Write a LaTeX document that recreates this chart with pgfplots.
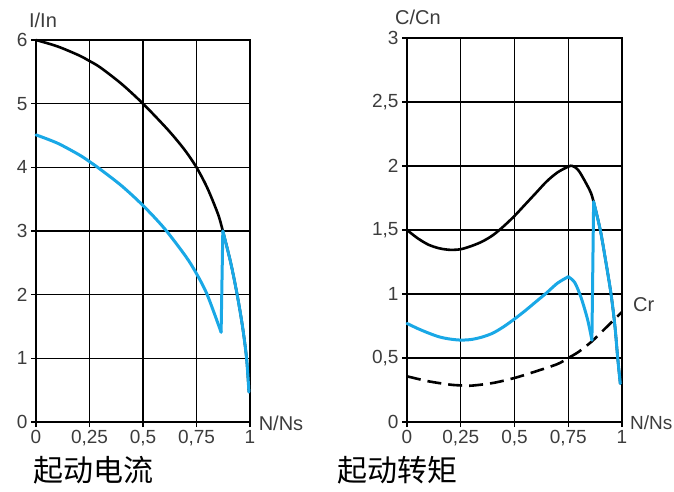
\documentclass[border=0pt]{standalone}
\usepackage{fontspec}
\setmainfont{Liberation Sans}
\newfontfamily\cjk{Noto Sans CJK SC}
\usepackage{pgfplots}
\pgfplotsset{compat=1.18}
\definecolor{cblue}{RGB}{25,168,230}
\definecolor{tlab}{RGB}{60,60,60}
\pgfplotsset{
  myax/.style={
    scale only axis, anchor=south west,
    xmin=0, xmax=1, ymin=0,
    xtick={0,0.25,0.5,0.75,1},
    xticklabels={0,{0,25},{0,5},{0,75},1},
    grid=major,
    major grid style={black, line width=1.3pt},
    axis line style={black, line width=1.3pt},
    tick style={black, line width=1.3pt},
    tick align=outside, major tick length=5pt,
    xtick pos=bottom, ytick pos=left,
    ticklabel style={font=\fontsize{19}{21}\selectfont, text=tlab},
    /pgf/number format/assume math mode=true,
    clip=false,
  },
  blk/.style={black, line width=2.6pt, line join=round, line cap=round},
  blu/.style={cblue, line width=3pt, line join=round, line cap=round},
}
\begin{document}
\begin{tikzpicture}[x=1pt,y=1pt]
\useasboundingbox (0,0) rectangle (674,491);
\begin{axis}[myax, at={(36pt,69pt)}, width=214pt, height=382pt, ymax=6, ytick={0,1,2,3,4,5,6}]
\addplot[blk, smooth] coordinates {(0,6.0) (0.1,5.9) (0.2,5.76) (0.25,5.67) (0.3,5.57) (0.4,5.31) (0.5,5.0) (0.6,4.65) (0.65,4.46) (0.7,4.25) (0.75,4.0) (0.8,3.68) (0.85,3.27) (0.873,3.0) (0.91,2.5) (0.94,2.0) (0.965,1.5) (0.984,1.0) (0.995,0.47)};
\addplot[blu, smooth] coordinates {(0,4.51) (0.1,4.38) (0.2,4.2) (0.25,4.09) (0.3,3.97) (0.4,3.71) (0.5,3.40) (0.6,3.04) (0.7,2.6) (0.75,2.33) (0.8,2.0) (0.865,1.41)};
\addplot[blu] coordinates {(0.865,1.41) (0.873,3.0)};
\addplot[blu, smooth] coordinates {(0.873,3.0) (0.91,2.5) (0.94,2.0) (0.965,1.5) (0.984,1.0) (0.995,0.47)};
\end{axis}
\begin{axis}[myax, at={(407pt,69pt)}, width=215pt, height=384pt, ymax=3, ytick={0,0.5,1,1.5,2,2.5,3}, yticklabels={0,{0,5},1,{1,5},2,{2,5},3}]
\addplot[black, line width=2.6pt, dash pattern=on 14pt off 7pt, smooth] coordinates {(0,0.357) (0.1,0.318) (0.2,0.292) (0.25,0.286) (0.3,0.284) (0.4,0.305) (0.5,0.344) (0.6,0.396) (0.7,0.453) (0.75,0.5) (0.8,0.55) (0.86,0.63) (0.9,0.695) (1,0.86)};
\addplot[blk, smooth] coordinates {(0,1.5) (0.05,1.435) (0.1,1.385) (0.15,1.357) (0.2,1.345) (0.25,1.35) (0.3,1.375) (0.35,1.41) (0.4,1.46) (0.45,1.53) (0.5,1.61) (0.55,1.70) (0.6,1.79) (0.65,1.88) (0.7,1.95) (0.75,1.995) (0.77,2.0) (0.8,1.96) (0.85,1.81) (0.868,1.72) (0.899,1.5) (0.925,1.25) (0.949,1.0) (0.967,0.75) (0.98,0.5) (0.992,0.3)};
\addplot[blu, smooth] coordinates {(0,0.77) (0.05,0.73) (0.1,0.695) (0.15,0.665) (0.2,0.648) (0.25,0.64) (0.3,0.645) (0.35,0.664) (0.4,0.695) (0.45,0.745) (0.5,0.805) (0.55,0.87) (0.6,0.94) (0.65,1.01) (0.7,1.085) (0.75,1.135)};
\addplot[blu, smooth] coordinates {(0.75,1.135) (0.78,1.09) (0.81,0.97) (0.84,0.8) (0.86,0.64)};
\addplot[blu] coordinates {(0.86,0.64) (0.868,1.72)};
\addplot[blu, smooth] coordinates {(0.868,1.72) (0.899,1.5) (0.925,1.25) (0.949,1.0) (0.967,0.75) (0.98,0.5) (0.992,0.3)};
\end{axis}
\begin{scope}[every node/.style={font=\fontsize{20}{22}\selectfont, text=tlab, inner sep=0pt}]
\node at (43,471) {I/In};
\node at (281,68) {N/Ns};
\node at (418,474) {C/Cn};
\node[anchor=west, font=\fontsize{19}{21}\selectfont] at (630,68) {N/Ns};
\node[anchor=west] at (633,186) {Cr};
\end{scope}
\node[font=\cjk\fontsize{30}{32}\selectfont, inner sep=0pt] at (93,21) {起动电流};
\node[font=\cjk\fontsize{30}{32}\selectfont, inner sep=0pt] at (397,21) {起动转矩};
\end{tikzpicture}
\end{document}
